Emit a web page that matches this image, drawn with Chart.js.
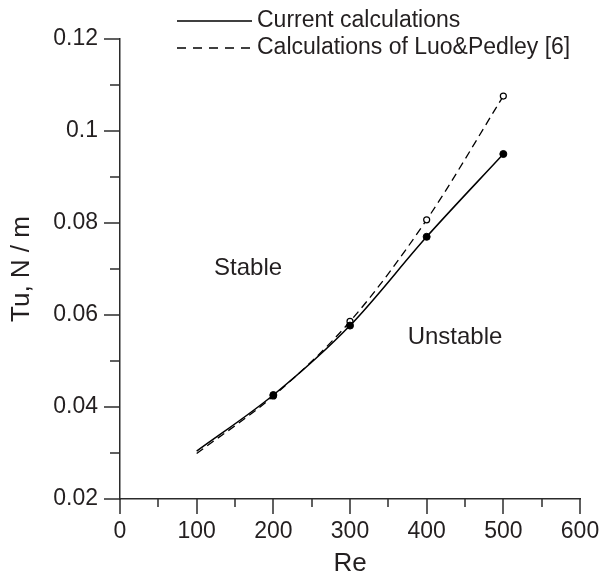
<!DOCTYPE html>
<html><head><meta charset="utf-8">
<style>html,body{margin:0;padding:0;background:#fff}#wrap{width:602px;height:579px;position:relative}</style>
<script src="https://cdn.jsdelivr.net/npm/chart.js@4"></script>
</head><body><div id="wrap"><canvas id="c" width="602" height="579"></canvas></div>
<script>
// ---- data ----
const reValues = [100, 200, 300, 400, 500];
const currentTension = [0.0304, 0.0426, 0.0577, 0.0770, 0.0950];
const luoPedleyTension = [0.0299, 0.0424, 0.0586, 0.0807, 0.1076];
const seriesLabels = ['Current calculations', 'Calculations of Luo&Pedley [6]'];
const xTicks = [0, 100, 200, 300, 400, 500, 600];
const xMinorTicks = [50, 150, 250, 350, 450, 550];
const yTicks = [0.02, 0.04, 0.06, 0.08, 0.1, 0.12];
const yTickLabels = ['0.02', '0.04', '0.06', '0.08', '0.1', '0.12'];
const yMinorTicks = [0.03, 0.05, 0.07, 0.09, 0.11];
const regionLabels = ['Stable', 'Unstable'];
const regionRe = [167, 437];
const regionTu = [0.0702, 0.0551];
const xTitle = 'Re';
const yTitle = 'Tu, N / m';

// ---- style ----
const FONT = '"Liberation Sans", Arial, Helvetica, sans-serif';
const TXT = '#231f20';
const AX = '#2b2b2b';

const toXY = (xs, ys) => xs.map((v, i) => ({x: v, y: ys[i]}));

const tickMarks = {
  id: 'tickMarks',
  afterDraw(chart) {
    const {ctx, chartArea: ca, scales: {x, y}} = chart;
    ctx.save();
    ctx.strokeStyle = AX; ctx.lineWidth = 1.5; ctx.lineCap = 'butt';
    const seg = (a, b, c, d) => { ctx.beginPath(); ctx.moveTo(a, b); ctx.lineTo(c, d); ctx.stroke(); };
    xTicks.forEach(v => { const p = Math.round(x.getPixelForValue(v)); seg(p, ca.bottom, p, ca.bottom + 15); });
    xMinorTicks.forEach(v => { const p = Math.round(x.getPixelForValue(v)); seg(p, ca.bottom, p, ca.bottom + 8); });
    yTicks.forEach(v => { const p = Math.round(y.getPixelForValue(v)); seg(ca.left - 16, p, ca.left, p); });
    yMinorTicks.forEach(v => { const p = Math.round(y.getPixelForValue(v)); seg(ca.left - 10, p, ca.left, p); });
    ctx.restore();
  }
};

const customText = {
  id: 'customText',
  afterDraw(chart) {
    const {ctx, scales: {x, y}} = chart;
    ctx.save();
    // legend
    const lx0 = 177, lx1 = 252, tx = 257, ly = [21, 48];
    ctx.strokeStyle = '#000'; ctx.lineWidth = 1.3;
    ctx.beginPath(); ctx.setLineDash([]); ctx.moveTo(lx0, ly[0]); ctx.lineTo(lx1, ly[0]); ctx.stroke();
    ctx.beginPath(); ctx.setLineDash([9, 7]); ctx.moveTo(lx0, ly[1]); ctx.lineTo(lx1, ly[1]); ctx.stroke();
    ctx.setLineDash([]);
    ctx.fillStyle = TXT; ctx.font = '23px ' + FONT; ctx.textBaseline = 'middle'; ctx.textAlign = 'left';
    ctx.fillText(chart.data.datasets[0].label, tx, ly[0]);
    ctx.fillText(chart.data.datasets[1].label, tx, ly[1]);
    // region labels
    ctx.font = '24px ' + FONT; ctx.textAlign = 'center';
    regionLabels.forEach((t, i) => ctx.fillText(t, x.getPixelForValue(regionRe[i]), y.getPixelForValue(regionTu[i])));
    ctx.restore();
  }
};

new Chart(document.getElementById('c'), {
  type: 'line',
  data: {
    datasets: [
      {
        label: seriesLabels[0],
        data: toXY(reValues, currentTension),
        borderColor: '#000', borderWidth: 1.5, fill: false,
        cubicInterpolationMode: 'monotone',
        pointRadius: [0, 3.5, 3.5, 3.5, 3.5],
        pointBackgroundColor: '#000', pointBorderColor: '#000', pointBorderWidth: 1
      },
      {
        label: seriesLabels[1],
        data: toXY(reValues, luoPedleyTension),
        borderColor: '#000', borderWidth: 1.3, borderDash: [8, 5], fill: false,
        cubicInterpolationMode: 'monotone',
        pointRadius: [0, 3, 3, 3, 3],
        pointBackgroundColor: '#fff', pointBorderColor: '#000', pointBorderWidth: 1.2
      }
    ]
  },
  options: {
    responsive: false, animation: false, devicePixelRatio: 1,
    events: [],
    layout: {padding: {top: 39, right: 22, left: 0, bottom: 0}},
    plugins: {legend: {display: false}, tooltip: {enabled: false}},
    scales: {
      x: {
        type: 'linear', min: 0, max: 600,
        afterBuildTicks: s => { s.ticks = xTicks.map(v => ({value: v})); },
        afterFit: s => { s.height = 80; },
        ticks: {color: TXT, font: {family: FONT, size: 23}, padding: 0, maxRotation: 0, autoSkip: false},
        grid: {drawOnChartArea: false, drawTicks: true, tickLength: 19, tickColor: 'rgba(0,0,0,0)'},
        border: {display: true, color: AX, width: 1.5},
        title: {display: true, text: xTitle, color: TXT, font: {family: FONT, size: 26, lineHeight: 1.2}, padding: {top: 0, bottom: 0}}
      },
      y: {
        type: 'linear', min: 0.02, max: 0.12,
        afterBuildTicks: s => { s.ticks = yTicks.map(v => ({value: v})); },
        afterFit: s => { s.width = 120; },
        ticks: {color: TXT, font: {family: FONT, size: 23}, padding: 0,
          callback: (v) => { const i = yTicks.findIndex(t => Math.abs(t - v) < 1e-9); return i >= 0 ? yTickLabels[i] : ''; }},
        grid: {drawOnChartArea: false, drawTicks: true, tickLength: 22, tickColor: 'rgba(0,0,0,0)'},
        border: {display: true, color: AX, width: 1.5},
        title: {display: true, text: yTitle, color: TXT, font: {family: FONT, size: 26, lineHeight: 1.2}, padding: {top: 6, bottom: 0}}
      }
    }
  },
  plugins: [tickMarks, customText]
});
</script></body></html>
